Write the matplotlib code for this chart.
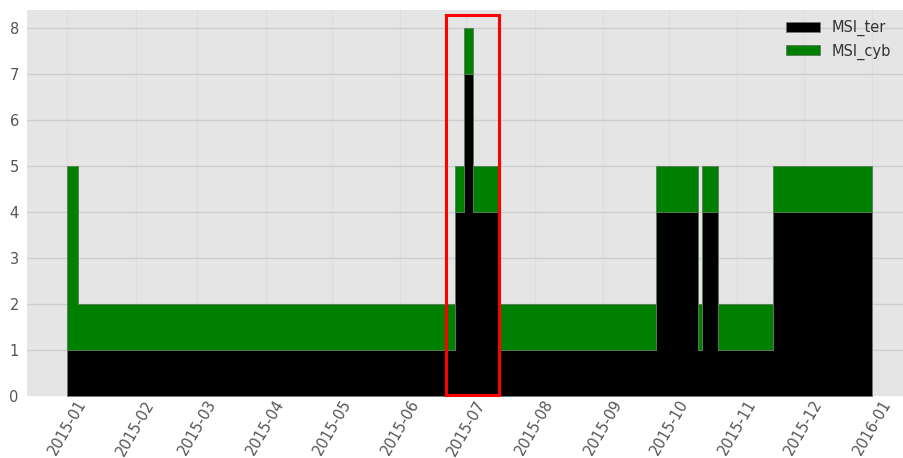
import matplotlib
matplotlib.use("Agg")
import matplotlib.pyplot as plt
import matplotlib.dates as mdates
from matplotlib.patches import Rectangle
import numpy as np
import pandas as pd

# Step segments: each value holds from its start date until the next start
seg_start = ["2015-01-01", "2015-01-06", "2015-06-26", "2015-06-30", "2015-07-04",
             "2015-07-16", "2015-09-25", "2015-10-14", "2015-10-16", "2015-10-23",
             "2015-11-17", "2016-01-01"]
msi_ter = [1, 1, 4, 7, 4, 1, 4, 1, 4, 1, 4, 4]
msi_cyb = [4, 1, 1, 1, 1, 1, 1, 1, 1, 1, 1, 1]

# Highlighted window
box_start, box_end = "2015-06-22", "2015-07-16"
box_top = 8.28

dates = pd.to_datetime(seg_start)
ter = np.array(msi_ter, dtype=float)
cyb = np.array(msi_cyb, dtype=float)
total = ter + cyb

fig = plt.figure(figsize=(9.04, 4.58), dpi=100)
fig.patch.set_facecolor("white")
ax = fig.add_axes([0.030, 0.1354, 0.979, 0.843])
ax.set_facecolor("#e5e5e5")

ax.fill_between(dates, 0, ter, step="post", facecolor="black",
                edgecolor="#777777", linewidth=0.6, label="MSI_ter", zorder=2)
ax.fill_between(dates, ter, total, step="post", facecolor="green",
                edgecolor="#5a7a5a", linewidth=0.6, label="MSI_cyb", zorder=2)

x0 = mdates.date2num(pd.Timestamp("2015-01-01"))
x1 = mdates.date2num(pd.Timestamp("2016-01-01"))
pad = 0.05 * (x1 - x0)
ax.set_xlim(x0 - pad, x1 + pad)
ax.set_ylim(0, 8.4)

b0 = mdates.date2num(pd.Timestamp(box_start))
b1 = mdates.date2num(pd.Timestamp(box_end))
ax.add_patch(Rectangle((b0, 0.03), b1 - b0, box_top - 0.03, fill=False,
                       edgecolor="red", linewidth=2.2, zorder=5, clip_on=False))

ax.xaxis.set_major_locator(mdates.MonthLocator())
ax.xaxis.set_major_formatter(mdates.DateFormatter("%Y-%m"))
ax.set_yticks(range(0, 9))
ax.tick_params(axis="both", length=0, colors="#555555")
ax.tick_params(axis="y", labelsize=10.5, pad=6)
ax.tick_params(axis="x", labelsize=10.5, pad=1)
for lbl in ax.get_xticklabels():
    lbl.set_rotation(60)
    lbl.set_ha("center")
    lbl.set_va("top")

ax.grid(axis="y", color="#cdcdcd", linewidth=1.0, zorder=0)
ax.grid(axis="x", color="#dddddd", linewidth=0.8, zorder=0)
ax.set_axisbelow(True)
for s in ax.spines.values():
    s.set_visible(False)

leg = ax.legend(loc="upper right", bbox_to_anchor=(1.0, 0.985),
                bbox_transform=fig.transFigure, frameon=False,
                fontsize=10.5, handlelength=2.3, labelspacing=0.5)
for t in leg.get_texts():
    t.set_color("#333333")

fig.savefig("out.png", dpi=100)
